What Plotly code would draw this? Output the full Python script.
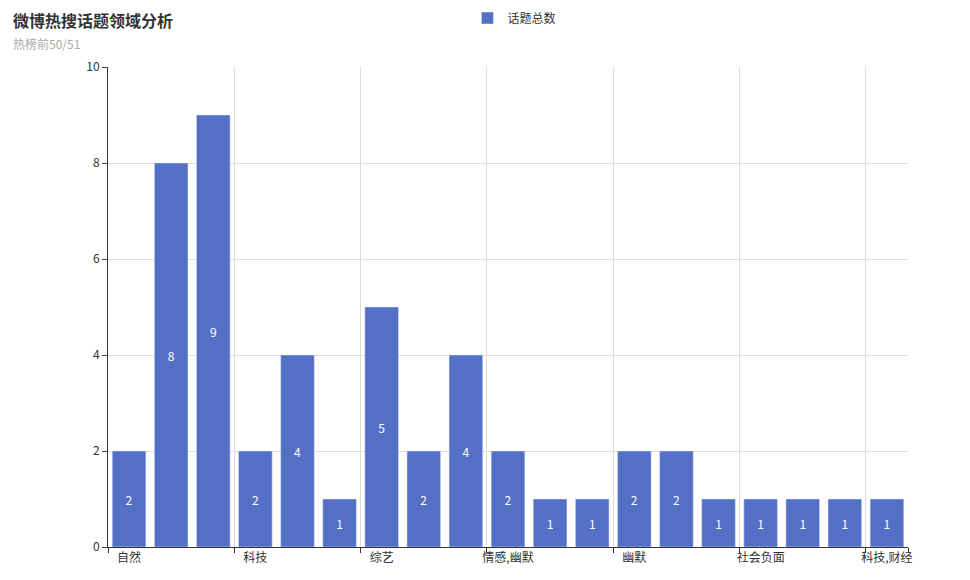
import plotly.graph_objects as go

positions = list(range(19))
values = [2, 8, 9, 2, 4, 1, 5, 2, 4, 2, 1, 1, 2, 2, 1, 1, 1, 1, 1]
label_positions = [0, 3, 6, 9, 12, 15, 18]
label_texts = ["自然", "科技", "综艺", "情感,幽默", "幽默", "社会负面", "科技,财经"]
boundaries = [-0.5, 2.5, 5.5, 8.5, 11.5, 14.5, 17.5, 18.5]

fig = go.Figure(go.Bar(
    x=positions, y=values, name="话题总数", marker_color="#5470c6", width=0.8,
    text=values, textposition="inside", insidetextanchor="middle",
    textfont=dict(color="white", size=12), showlegend=True))

fig.update_layout(
    width=970, height=580, plot_bgcolor="white", paper_bgcolor="white",
    font=dict(family="Noto Sans CJK SC", color="#333"),
    margin=dict(l=100, r=70, t=59, b=41, autoexpand=False),
    legend=dict(orientation="h", x=0.508, xanchor="center", y=1.102, yanchor="middle", font=dict(size=12)),
    xaxis=dict(range=[-0.5, 18.5], tickmode="array", tickvals=label_positions, ticktext=label_texts,
               showgrid=False, ticks="", showline=True, linecolor="#333", tickfont=dict(size=12),
               minor=dict(tickmode="array", tickvals=boundaries, showgrid=True, gridcolor="#ddd",
                          ticks="outside", ticklen=5, tickcolor="#333")),
    yaxis=dict(range=[0, 10], dtick=2, showgrid=True, gridcolor="#ddd", showline=True, linecolor="#333",
               ticks="outside", ticklen=5, zeroline=False, tickfont=dict(size=12)),
    annotations=[
        dict(text="<b>微博热搜话题领域分析</b>", xref="paper", yref="paper", x=-0.1215, y=1.098,
             xanchor="left", yanchor="middle", showarrow=False, font=dict(size=16, color="#333")),
        dict(text="热榜前50/51", xref="paper", yref="paper", x=-0.1215, y=1.048,
             xanchor="left", yanchor="middle", showarrow=False, font=dict(size=12, color="#aaa")),
    ],
)
fig.write_html("out.html")
